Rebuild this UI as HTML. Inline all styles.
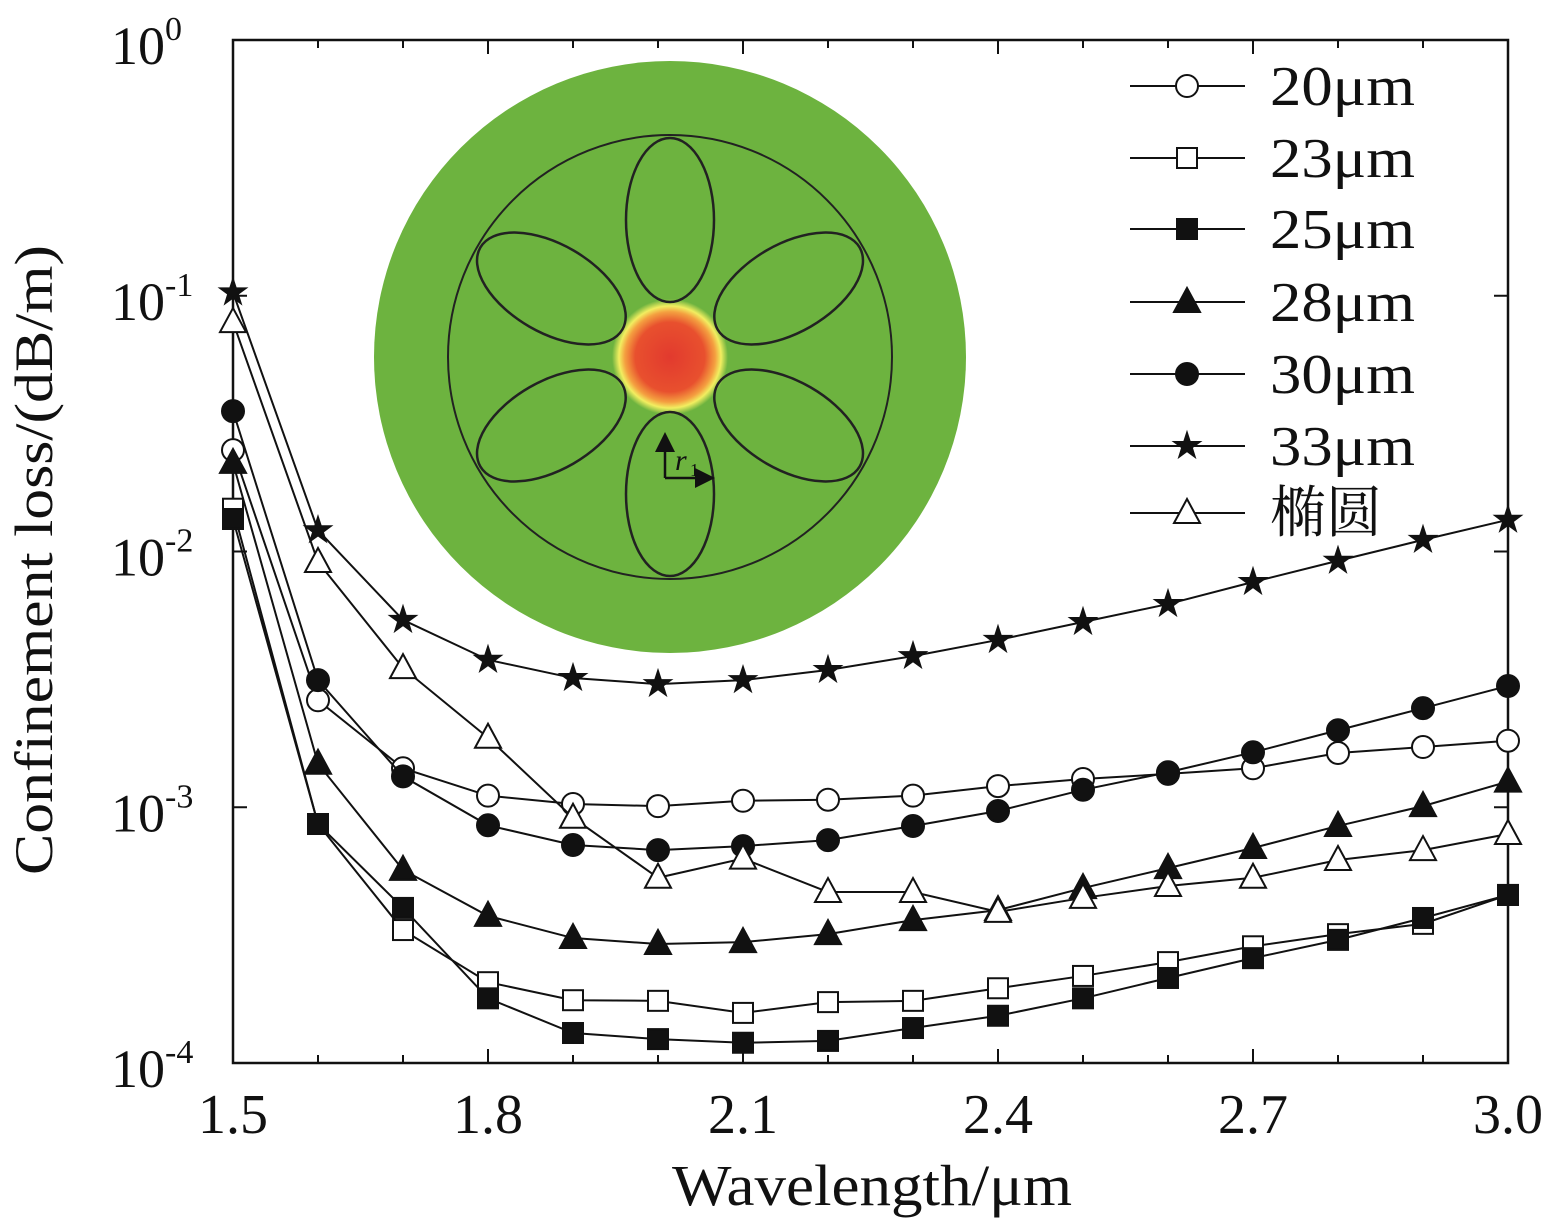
<!DOCTYPE html>
<html><head><meta charset="utf-8"><style>
body{margin:0;background:#fff}
svg text{font-family:"Liberation Serif","Noto Serif CJK SC",serif;fill:#111}
</style></head><body>
<svg id="chart" width="1548" height="1225" viewBox="0 0 1548 1225">
<defs>
<radialGradient id="core" cx="0.5" cy="0.5" r="0.5">
<stop offset="0" stop-color="#e23a2e"/><stop offset="0.6" stop-color="#e8502e"/><stop offset="0.78" stop-color="#f4a040"/><stop offset="0.88" stop-color="#f2ee60"/><stop offset="1" stop-color="#6db33f"/>
</radialGradient>
<marker id="ah" markerWidth="8" markerHeight="8" refX="4" refY="4" orient="auto"><path d="M0,0L8,4L0,8z" fill="#111"/></marker>
</defs>
<g id="inset">
<circle cx="670" cy="357" r="296" fill="#6db33f"/>
<circle cx="670" cy="357" r="222" fill="none" stroke="#222" stroke-width="2"/>
<circle cx="670" cy="357" r="58" fill="url(#core)"/>
<g id="petals" fill="none" stroke="#222" stroke-width="2.5"></g>
<line x1="665" y1="478" x2="665" y2="442" stroke="#111" stroke-width="2.5" marker-end="url(#ah)"/>
<line x1="665" y1="478" x2="705" y2="478" stroke="#111" stroke-width="2.5" marker-end="url(#ah)"/>
<text x="675" y="470" font-size="30" font-style="italic">r</text><text x="690" y="476" font-size="18">1</text>
</g>
<g id="axes"></g>
<g id="series"></g>
<g id="legend"></g>
</svg>
<script>
const xs=[1.5,1.6,1.7,1.8,1.9,2.0,2.1,2.2,2.3,2.4,2.5,2.6,2.7,2.8,2.9,3.0];
const s20=[0.0249,0.00262,0.00142,0.00111,0.00103,0.00101,0.00106,0.00107,0.00111,0.00121,0.00129,0.00135,0.00142,0.00163,0.00172,0.00182];
const s23=[0.0147,0.00086,0.000331,0.000207,0.000176,0.000175,0.000157,0.000173,0.000175,0.000196,0.000219,0.000248,0.000286,0.000319,0.00035,0.000454];
const s25=[0.0134,0.00086,0.000404,0.000179,0.000131,0.000124,0.00012,0.000122,0.000137,0.000153,0.000179,0.000215,0.000257,0.000303,0.000369,0.000454];
const s28=[0.0222,0.00148,0.000569,0.000376,0.000308,0.000292,0.000297,0.000319,0.000362,0.000396,0.000483,0.000578,0.000693,0.000845,0.00101,0.00126];
const s30=[0.0354,0.00314,0.00132,0.00085,0.000712,0.00068,0.000705,0.000744,0.000845,0.000967,0.00117,0.00137,0.00164,0.002,0.00244,0.00298];
const s33=[0.103,0.0121,0.0054,0.00377,0.0032,0.00303,0.00314,0.00344,0.0039,0.00451,0.0053,0.00623,0.0076,0.0092,0.0111,0.0133];
const sEl=[0.0789,0.0091,0.0035,0.00187,0.00091,0.00053,0.00063,0.000466,0.000466,0.00039,0.000442,0.000492,0.00053,0.000622,0.00068,0.000786];
const xTicks=["1.5","1.8","2.1","2.4","2.7","3.0"];
const yExps=["0","-1","-2","-3","-4"];
const legendLabels=["20μm","23μm","25μm","28μm","30μm","33μm","椭圆"];
const NS="http://www.w3.org/2000/svg";
const L=233,R=1508,T=40,B=1063;
function X(v){return L+(v-1.5)/1.5*(R-L);}
function Y(v){return T+(-Math.log10(v))/4*(B-T);}
function mk(tag,at,par){const e=document.createElementNS(NS,tag);for(const k in at)e.setAttribute(k,at[k]);par.appendChild(e);return e;}
const pet=document.getElementById('petals');
for(let i=0;i<6;i++){const a=i*60;const e=mk('ellipse',{cx:670,cy:357-137,rx:44,ry:82,transform:`rotate(${a} 670 357)`},pet);

}
const ax=document.getElementById('axes');
const fr=mk('rect',{x:L,y:T,width:R-L,height:B-T,fill:'none',stroke:'#111','stroke-width':2.5},ax);


for(let i=0;i<=15;i++){const v=1.5+i*0.1;const x=X(v);const len=(i%3==0)?14:8;
mk('line',{x1:x,y1:B,x2:x,y2:B-len,stroke:'#111','stroke-width':2},ax);
mk('line',{x1:x,y1:T,x2:x,y2:T+len,stroke:'#111','stroke-width':2},ax);}
xTicks.forEach(t=>{const e=mk('text',{x:X(parseFloat(t)),y:1133,'font-size':56,'text-anchor':'middle'},ax);e.textContent=t;

});
yExps.forEach(ex=>{const y=Y(Math.pow(10,parseFloat(ex)));
mk('line',{x1:L,y1:y,x2:L+14,y2:y,stroke:'#111','stroke-width':2},ax);
mk('line',{x1:R,y1:y,x2:R-14,y2:y,stroke:'#111','stroke-width':2},ax);
const e=mk('text',{x:111,y:y+24,'font-size':54},ax);e.innerHTML='10<tspan dy="-24" font-size="34">'+ex+'</tspan>';

});
const xt=mk('text',{x:872,y:1205,'font-size':58,'text-anchor':'middle',textLength:400,lengthAdjust:'spacingAndGlyphs'},ax);xt.textContent='Wavelength/μm';


const yt=mk('text',{x:0,y:0,'font-size':54,'text-anchor':'middle',textLength:630,lengthAdjust:'spacingAndGlyphs',transform:'translate(52,560) rotate(-90)'},ax);yt.textContent='Confinement loss/(dB/m)';


function marker(type,x,y,par){let e;
if(type=='oc'||type=='fc')e=mk('circle',{cx:x,cy:y,r:11},par);
else if(type=='os'||type=='fs')e=mk('rect',{x:x-10,y:y-10,width:20,height:20},par);
else if(type=='ot'||type=='ft')e=mk('polygon',{points:`${x},${y-14} ${x+13},${y+10} ${x-13},${y+10}`},par);
else{let p=[];for(let k=0;k<10;k++){const r=k%2?5:13;const a=-Math.PI/2+k*Math.PI/5;p.push((x+r*Math.cos(a)).toFixed(1)+','+(y+r*Math.sin(a)).toFixed(1));}e=mk('polygon',{points:p.join(' ')},par);}
const filled=type[0]=='f'||type=='st';
e.setAttribute('fill',filled?'#111':'#fff');e.setAttribute('stroke','#111');e.setAttribute('stroke-width',2);return e;}
const series=[[s20,'oc'],[s23,'os'],[s25,'fs'],[s28,'ft'],[s30,'fc'],[s33,'st'],[sEl,'ot']];
const sg=document.getElementById('series');
series.forEach(([d,t],si)=>{const g=mk('g',{},sg);


mk('polyline',{points:d.map((v,i)=>X(xs[i])+','+Y(v)).join(' '),fill:'none',stroke:'#111','stroke-width':2},g);
d.forEach((v,i)=>{const m=marker(t,X(xs[i]),Y(v),g);

});});
const lg=document.getElementById('legend');
const lys=[86,158,229,302,374,446,513];
series.forEach(([d,t],i)=>{const g=mk('g',{},lg);


const y=lys[i];mk('line',{x1:1130,y1:y,x2:1245,y2:y,stroke:'#111','stroke-width':2},g);marker(t,1187,y,g);
const at={x:1270,y:y+19,'font-size':56};if(i<6){at.textLength=145;at.lengthAdjust='spacingAndGlyphs';}
const e=mk('text',at,g);e.textContent=legendLabels[i];});
</script>
</body></html>
